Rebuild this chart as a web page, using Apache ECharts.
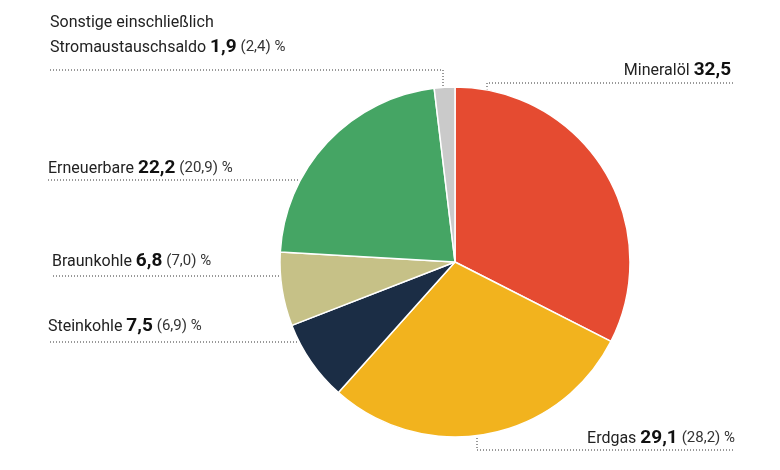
<!DOCTYPE html>
<html><head><meta charset="utf-8">
<script src="https://cdn.jsdelivr.net/npm/echarts@6/dist/echarts.min.js"></script>
<style>html,body{margin:0;background:#fff}#c{width:780px;height:470px}</style>
</head><body><div id="c"></div>
<script>
const names = ['Mineralöl','Erdgas','Steinkohle','Braunkohle','Erneuerbare','Sonstige einschließlich\nStromaustauschsaldo'];
const values = [32.5, 29.1, 7.5, 6.8, 22.2, 1.9];
const previous = ['34,7','28,2','6,9','7,0','20,9','2,4'];
const colors = ['#e54b31','#f2b31e','#1b2d45','#c6c187','#45a564','#cacaca'];

const F = '"Liberation Sans Narrow","Roboto",sans-serif';
// label anchor layout: [x, y, align, line points]
const layouts = [
  {x:735,y:58,align:'right',pts:[[487,120],[487,83],[735,83]]},
  {x:735,y:426,align:'right',pts:[[477,405],[477,450],[735,450]]},
  {x:48,y:314,align:'left',pts:[[345,342],[48,342]]},
  {x:52,y:249,align:'left',pts:[[315,276],[52,276]]},
  {x:48,y:156,align:'left',pts:[[322,180],[48,180]]},
  {x:50,y:10,align:'left',pts:[[443,92],[443,70],[50,70]]}
];
const chart = echarts.init(document.getElementById('c'));
chart.setOption({
  animation:false,
  series:[{
    type:'pie', center:[455,262], radius:[0,175], startAngle:90, clockwise:true,
    itemStyle:{borderColor:'#fff',borderWidth:1.5},
    data: names.map((n,i)=>({name:n,value:values[i],itemStyle:{color:colors[i]},
      label:{formatter: n.replace('\n','\n') + ' {b|'+String(values[i]).replace('.',',')+'} {s|('+previous[i]+') %}'}})),
    label:{show:true, color:'#222', fontFamily:F, fontSize:16, lineHeight:25,
      rich:{b:{fontFamily:F,fontWeight:'bold',fontSize:19,color:'#111'},s:{fontFamily:F,fontSize:15,color:'#333'}}},
    labelLine:{show:true, lineStyle:{color:'#333',type:[1,2],width:1}},
    labelLayout:function(p){const l=layouts[p.dataIndex];return {x:l.x,y:l.y,align:l.align,verticalAlign:'top',labelLinePoints:l.pts};}
  }]
});
</script></body></html>
